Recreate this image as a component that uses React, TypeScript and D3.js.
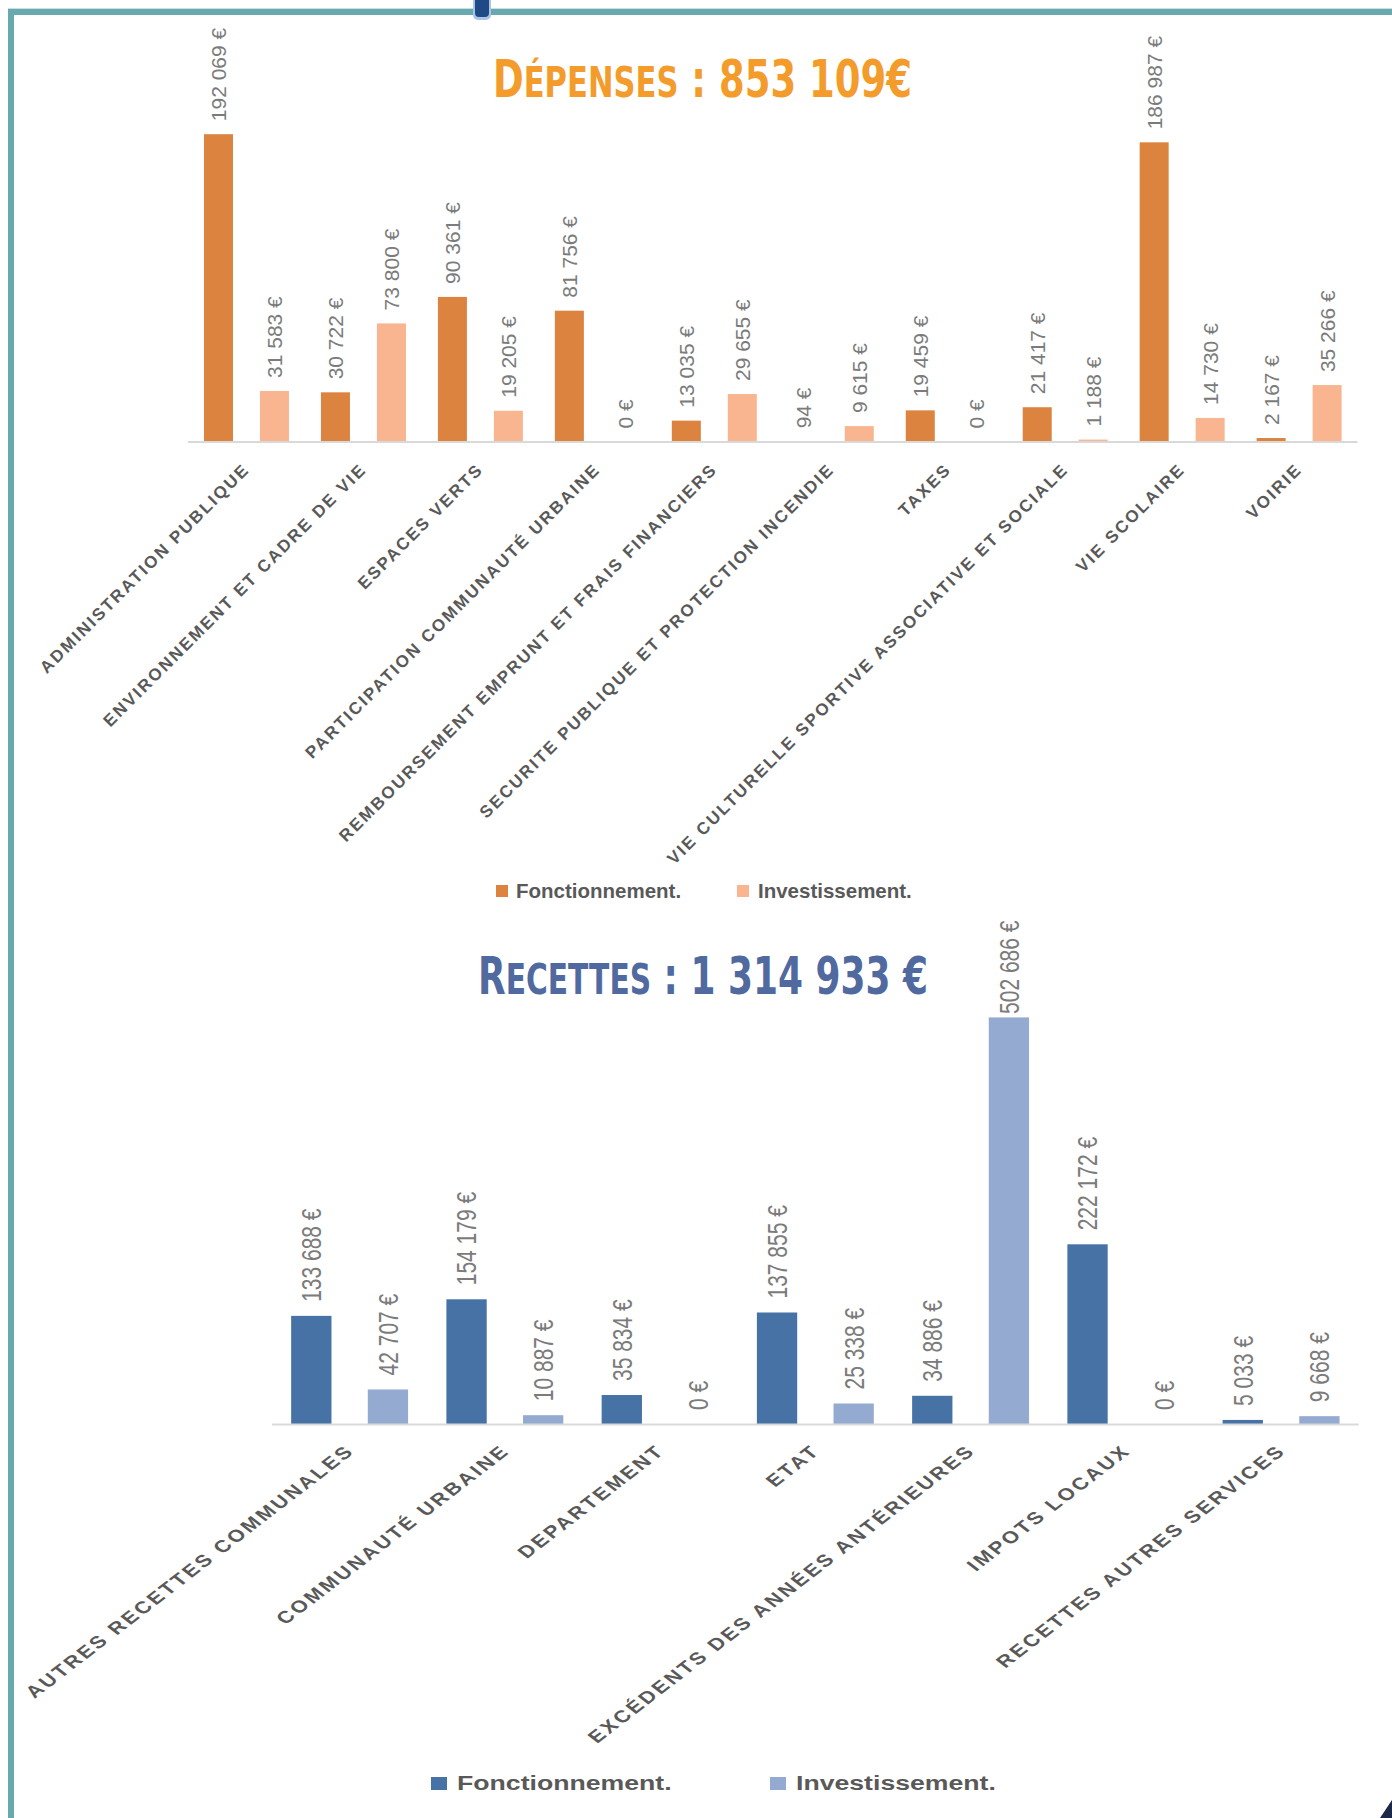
import React, { useLayoutEffect, useRef, useState } from "react";
import * as d3 from "d3";

// ---------- DATA ----------
const depCategories = [
  "ADMINISTRATION PUBLIQUE",
  "ENVIRONNEMENT ET CADRE DE VIE",
  "ESPACES VERTS",
  "PARTICIPATION COMMUNAUTÉ URBAINE",
  "REMBOURSEMENT EMPRUNT ET FRAIS FINANCIERS",
  "SECURITE PUBLIQUE ET PROTECTION INCENDIE",
  "TAXES",
  "VIE CULTURELLE SPORTIVE ASSOCIATIVE ET SOCIALE",
  "VIE SCOLAIRE",
  "VOIRIE",
];
const depFonctionnement = [192069, 30722, 90361, 81756, 13035, 94, 19459, 21417, 186987, 2167];
const depInvestissement = [31583, 73800, 19205, 0, 29655, 9615, 0, 1188, 14730, 35266];

const recCategories = [
  "AUTRES RECETTES COMMUNALES",
  "COMMUNAUTÉ URBAINE",
  "DEPARTEMENT",
  "ETAT",
  "EXCÉDENTS DES ANNÉES ANTÉRIEURES",
  "IMPOTS LOCAUX",
  "RECETTES AUTRES SERVICES",
];
const recFonctionnement = [133688, 154179, 35834, 137855, 34886, 222172, 5033];
const recInvestissement = [42707, 10887, 0, 25338, 502686, 0, 9668];

const seriesNames = ["Fonctionnement.", "Investissement."];
const depTitle = { first: "D", small: "ÉPENSES", rest: " : 853 109€" };
const recTitle = { first: "R", small: "ECETTES", rest: " : 1 314 933 €" };

// ---------- helpers ----------
const fr = d3.formatLocale({ decimal: ",", thousands: " ", grouping: [3], currency: ["", " €"] });
const fmt = (v: number) => fr.format(",d")(v) + " €";
const LABEL_FONT = "'Liberation Sans', Arial, sans-serif";
const LABEL_SIZE = 21;
const estLen = (s: string) =>
  s.split("").reduce((a, c) => a + (c === " " ? 0.278 : 0.556) * LABEL_SIZE, 0);

type ChartProps = {
  cats: string[];
  fonct: number[];
  inv: number[];
  x0: number;
  x1: number;
  base: number;
  domainMax: number;
  top: number;
  padIn: number;
  padOut: number;
  colors: string[];
  k: number;
  gap: number;
  clampTop: number;
  catDx: number;
  catDy: number;
};

function BarChart(p: ChartProps) {
  const x = d3.scaleBand<string>().domain(p.cats).range([p.x0, p.x1]).padding(0);
  const xs = d3
    .scaleBand<string>()
    .domain(["f", "i"])
    .range([0, x.bandwidth()])
    .paddingInner(p.padIn)
    .paddingOuter(p.padOut);
  const y = d3.scaleLinear().domain([0, p.domainMax]).range([p.base, p.top]);
  const series = [
    { key: "f", vals: p.fonct, color: p.colors[0] },
    { key: "i", vals: p.inv, color: p.colors[1] },
  ];
  return (
    <g>
      {series.map((s) =>
        s.vals.map((v, i) => {
          const bx = (x(p.cats[i]) as number) + (xs(s.key) as number);
          const bw = xs.bandwidth();
          const yt = y(v);
          const label = fmt(v);
          const len = estLen(label);
          const ly = Math.max(yt - p.gap, p.clampTop + len);
          return (
            <g key={s.key + i}>
              {v > 0 && <rect x={bx} y={yt} width={bw} height={p.base - yt} fill={s.color} />}
              <text
                transform={`translate(${bx + bw / 2},${ly}) scale(${p.k},1) rotate(-90)`}
                dy="0.36em"
                fontFamily={LABEL_FONT}
                fontSize={LABEL_SIZE}
                fill="#7b7b7b"
              >
                {label}
              </text>
            </g>
          );
        })
      )}
      <line x1={p.x0} x2={p.x1} y1={p.base + 0.6} y2={p.base + 0.6} stroke="#d9d9d9" strokeWidth={2} />
      {p.cats.map((c) => {
        const cx = (x(c) as number) + x.bandwidth() / 2 + p.catDx;
        return (
          <text
            key={c}
            transform={`translate(${cx},${p.base + p.catDy}) scale(${p.k},1) rotate(-45)`}
            textAnchor="end"
            fontFamily="'Liberation Sans', Arial, sans-serif"
            fontWeight={700}
            fontSize={17}
            letterSpacing={2.15}
            fill="#595959"
          >
            {c}
          </text>
        );
      })}
    </g>
  );
}

function Legend({ x1, x2, sx1, sx2, y, k, colors, sw, sh }: any) {
  const font = "'Liberation Sans', Arial, sans-serif";
  return (
    <g>
      <rect x={sx1} y={y - 13} width={sw} height={sh} fill={colors[0]} />
      <text transform={`translate(${x1},${y}) scale(${k},1)`} fontFamily={font} fontWeight={700} fontSize={20.5} fill="#595959">
        {seriesNames[0]}
      </text>
      <rect x={sx2} y={y - 13} width={sw} height={sh} fill={colors[1]} />
      <text transform={`translate(${x2},${y}) scale(${k},1)`} fontFamily={font} fontWeight={700} fontSize={20.5} fill="#595959">
        {seriesNames[1]}
      </text>
    </g>
  );
}

function Title({ t, x, y, len, color }: any) {
  const ref = useRef<SVGTextElement>(null);
  const [sx, setSx] = useState(0.8);
  useLayoutEffect(() => {
    if (ref.current) {
      const w = ref.current.getBBox().width;
      if (w > 0) setSx(len / w);
    }
  }, [len]);
  return (
    <text
      ref={ref}
      transform={`translate(${x},${y}) scale(${sx},1)`}
      fontFamily="'Liberation Sans Narrow', 'DejaVu Sans Condensed', 'Liberation Sans', sans-serif"
      fontWeight={700}
      fontSize={52}
      fill={color}
    >
      <tspan>{t.first}</tspan>
      <tspan fontSize={43}>{t.small}</tspan>
      <tspan>{t.rest}</tspan>
    </text>
  );
}

export default function App() {
  const W = 1392;
  const H = 1818;
  const teal = "#67a9ae";
  const depColors = ["#db833f", "#f8b58f"];
  const recColors = ["#4672a5", "#95aad1"];
  return (
    <svg
      width={W}
      height={H}
      viewBox={`0 0 ${W} ${H}`}
      style={{ position: "absolute", left: 0, top: 0, display: "block", background: "#fff" }}
    >
      <rect x={0} y={0} width={W} height={H} fill="#fff" />
      {/* frame */}
      <rect x={8} y={8} width={W - 8} height={1.2} fill="#c8e0e2" />
      <rect x={8} y={9} width={W - 8} height={6} fill={teal} />
      <rect x={8} y={9} width={6} height={H - 9} fill={teal} />
      {/* small tab */}
      <rect x={473} y={-6} width={18} height={26} rx={5} fill="#a9c4e6" />
      <rect x={475} y={-6} width={14} height={23} rx={4} fill="#1f4a86" />
      {/* bottom-right corner mark */}
      <path d="M1392,1800 L1392,1818 L1380,1818 Z" fill="#1c2748" />

      <Title t={depTitle} x={493} y={97} len={419} color="#f39c2c" />
      <BarChart
        cats={depCategories}
        fonct={depFonctionnement}
        inv={depInvestissement}
        x0={188}
        x1={1357.6}
        base={441.5}
        domainMax={250000}
        top={41.5}
        padIn={0.482}
        padOut={0.2857}
        colors={depColors}
        k={1}
        gap={13}
        clampTop={20}
        catDx={4}
        catDy={29}
      />
      <Legend x1={516} x2={758} sx1={496} sx2={737} y={898} k={1} colors={depColors} sw={12} sh={12} />

      <Title t={recTitle} x={478} y={993.5} len={450} color="#50699f" />
      <BarChart
        cats={recCategories}
        fonct={recFonctionnement}
        inv={recInvestissement}
        x0={272}
        x1={1358.7}
        base={1424}
        domainMax={600000}
        top={1424 - 485.3}
        padIn={0.474}
        padOut={0.25}
        colors={recColors}
        k={1.3}
        gap={14}
        clampTop={920.5}
        catDx={6}
        catDy={28}
      />
      <Legend x1={457} x2={796} sx1={431} sx2={770} y={1790} k={1.3} colors={recColors} sw={16} sh={13} />
    </svg>
  );
}
